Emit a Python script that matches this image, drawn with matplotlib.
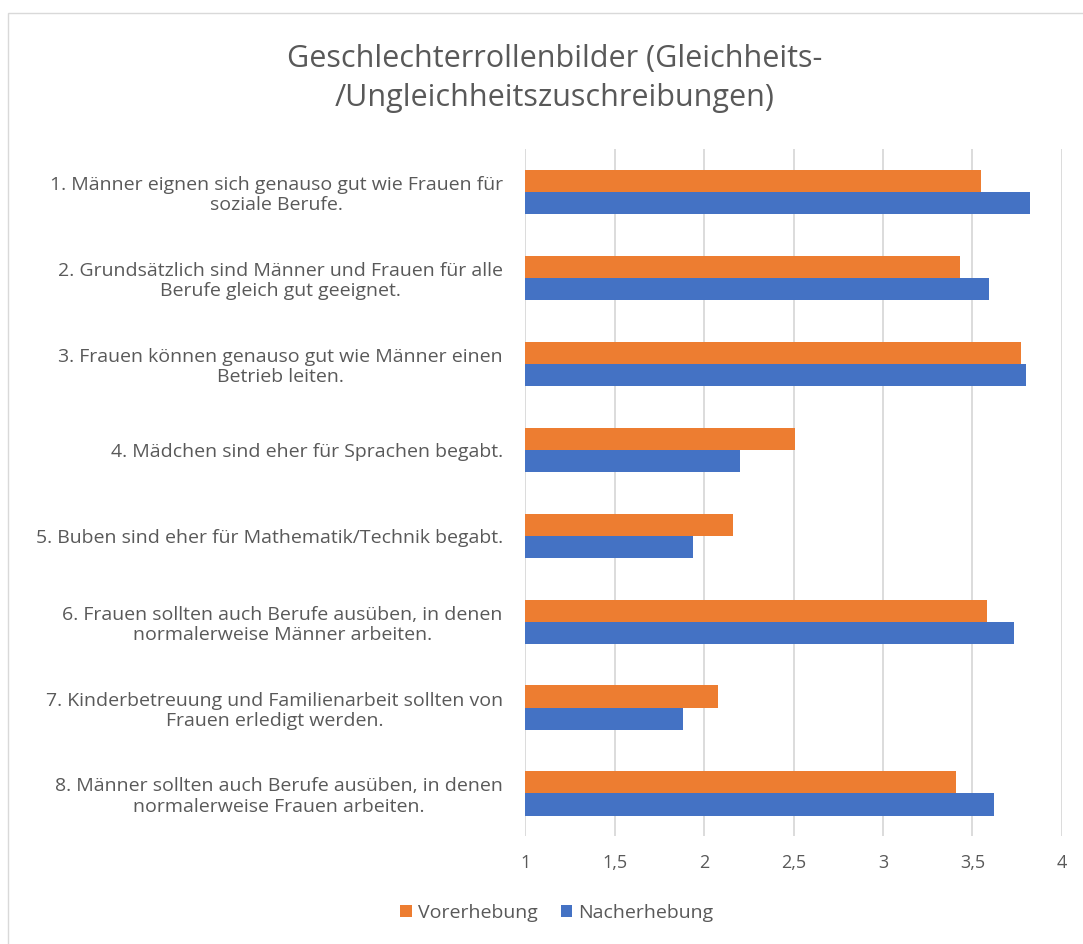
import numpy as np
import matplotlib.pyplot as plt
from matplotlib.patches import Rectangle

plt.rcParams['font.family'] = ['Open Sans', 'DejaVu Sans']

categories = [
    "1. Männer eignen sich genauso gut wie Frauen für\nsoziale Berufe.",
    "2. Grundsätzlich sind Männer und Frauen für alle\nBerufe gleich gut geeignet.",
    "3. Frauen können genauso gut wie Männer einen\nBetrieb leiten.",
    "4. Mädchen sind eher für Sprachen begabt.",
    "5. Buben sind eher für Mathematik/Technik begabt.",
    "6. Frauen sollten auch Berufe ausüben, in denen\nnormalerweise Männer arbeiten.",
    "7. Kinderbetreuung und Familienarbeit sollten von\nFrauen erledigt werden.",
    "8. Männer sollten auch Berufe ausüben, in denen\nnormalerweise Frauen arbeiten.",
]
vorerhebung = [3.55, 3.43, 3.77, 2.51, 2.16, 3.58, 2.08, 3.41]
nacherhebung = [3.82, 3.59, 3.80, 2.20, 1.94, 3.73, 1.88, 3.62]
xticks = [1, 1.5, 2, 2.5, 3, 3.5, 4]
xticklabels = ["1", "1,5", "2", "2,5", "3", "3,5", "4"]

text_col = "#595959"
orange = "#ED7D31"
blue = "#4472C4"

fig = plt.figure(figsize=(10.83, 9.44), dpi=100)
ax = fig.add_axes([0.4848, 0.114, 0.4958, 0.728])

y = np.arange(len(categories))
h = 0.257
ax.barh(y - h / 2, np.array(vorerhebung) - 1, left=1, height=h, color=orange,
        label="Vorerhebung", zorder=3)
ax.barh(y + h / 2, np.array(nacherhebung) - 1, left=1, height=h, color=blue,
        label="Nacherhebung", zorder=3)

ax.set_xlim(1, 4)
ax.set_ylim(len(categories) - 0.5, -0.5)
ax.set_xticks(xticks)
ax.set_xticklabels(xticklabels, color=text_col, fontsize=13)
ax.set_yticks(y)
ax.set_yticklabels(categories, color=text_col, fontsize=14, ha='right',
                   multialignment='center', linespacing=1.15)
ax.tick_params(axis='both', length=0)
ax.tick_params(axis='x', pad=13)
ax.tick_params(axis='y', pad=16)
ax.grid(axis='x', color="#D9D9D9", linewidth=1.3, zorder=0)
for s in ax.spines.values():
    s.set_visible(False)

fig.text(0.512, 0.917, "Geschlechterrollenbilder (Gleichheits-\n/Ungleichheitszuschreibungen)",
         ha='center', va='center', fontsize=22, color=text_col, linespacing=1.4)

leg = fig.legend(loc='center', bbox_to_anchor=(0.514, 0.033), ncol=2, frameon=False,
                 fontsize=14, handlelength=0.6, handleheight=0.6, columnspacing=1.2,
                 handletextpad=0.3)
for t in leg.get_texts():
    t.set_color(text_col)

fig.patches.append(Rectangle((0.0074, -0.01), 1.1, 0.996, transform=fig.transFigure,
                             fill=False, edgecolor="#D9D9D9", linewidth=1))

fig.savefig("out.png", dpi=100)
